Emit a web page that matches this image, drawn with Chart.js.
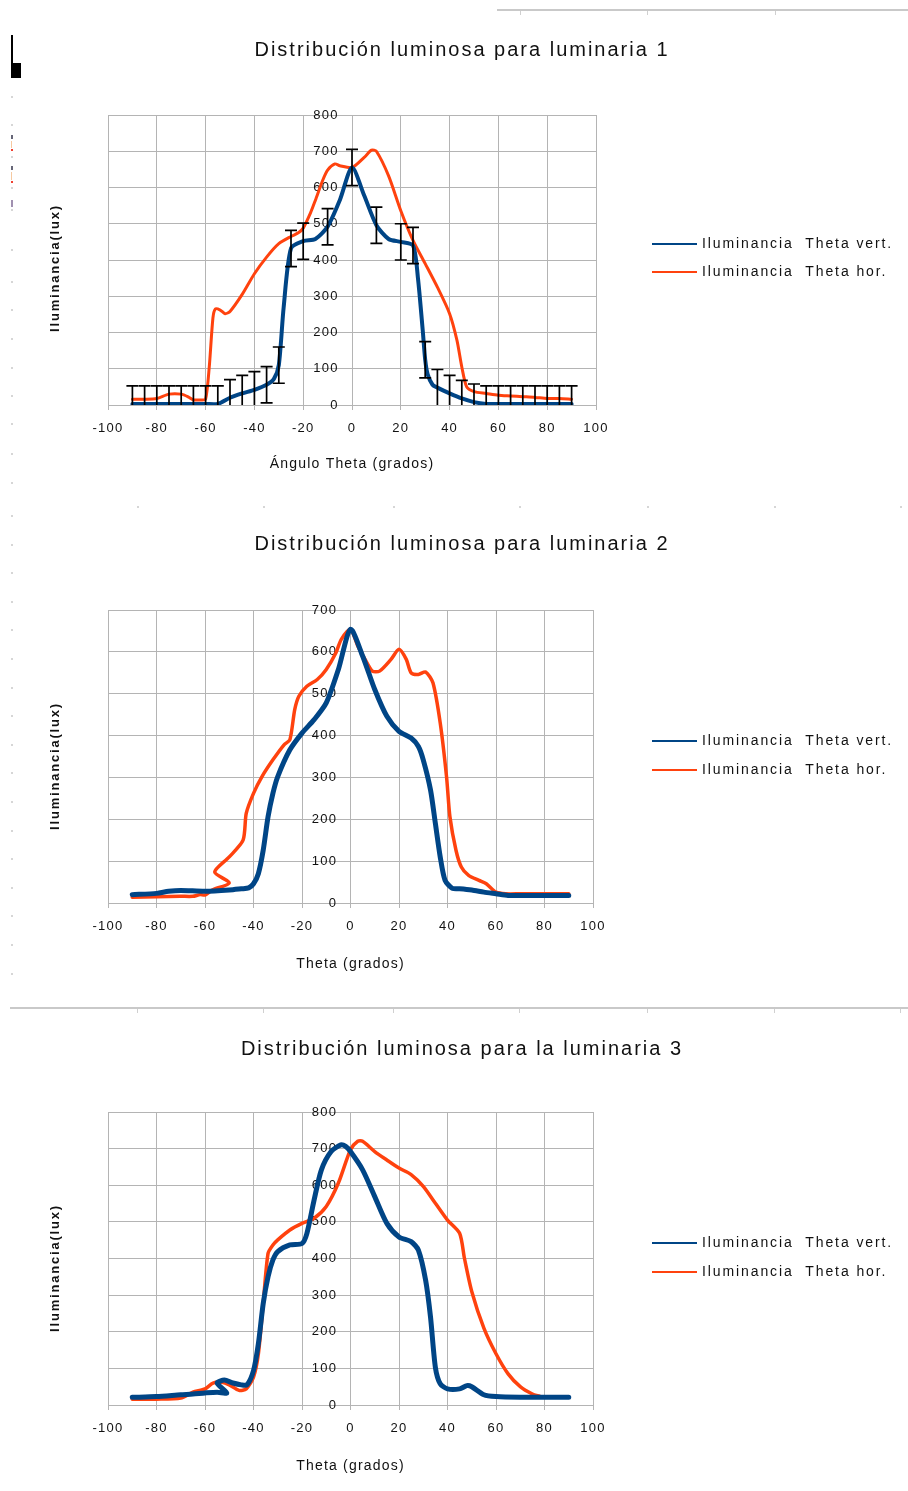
<!DOCTYPE html>
<html>
<head>
<meta charset="utf-8">
<title>Distribución luminosa</title>
<script src="https://cdn.jsdelivr.net/npm/chart.js@4.4.1/dist/chart.umd.min.js"></script>
<style>
  html, body { margin: 0; padding: 0; background: #fff; }
  #page { position: relative; width: 908px; height: 1491px; overflow: hidden; background: #fff; }
  canvas { position: absolute; left: 0; }
  .d { position: absolute; }
</style>
</head>
<body>
<div id="page">
  <!-- sheet decorations -->
  <div class="d" style="left:497px;top:9px;width:411px;height:2px;background:#c9c9c9"></div>
  <div class="d" style="left:520px;top:11px;width:1px;height:4px;background:#d0d0d0"></div>
  <div class="d" style="left:647px;top:11px;width:1px;height:4px;background:#d0d0d0"></div>
  <div class="d" style="left:775px;top:11px;width:1px;height:4px;background:#d0d0d0"></div>
  <div class="d" style="left:11px;top:35px;width:2px;height:43px;background:#000"></div>
  <div class="d" style="left:11px;top:63px;width:10px;height:15px;background:#000"></div>
  <div class="d" style="left:11px;top:135px;width:2px;height:4px;background:#667"></div>
  <div class="d" style="left:11px;top:141px;width:1px;height:7px;background:#f6c9a0"></div>
  <div class="d" style="left:11px;top:149px;width:2px;height:2px;background:#f04030"></div>
  <div class="d" style="left:11px;top:166px;width:2px;height:4px;background:#667"></div>
  <div class="d" style="left:11px;top:172px;width:1px;height:8px;background:#f6c9a0"></div>
  <div class="d" style="left:11px;top:181px;width:2px;height:2px;background:#f04030"></div>
  <div class="d" style="left:11px;top:200px;width:2px;height:7px;background:#a090b0"></div>
  <div class="d" style="left:10px;top:1007px;width:898px;height:2px;background:#c9c9c9"></div>
  <div id="dots"></div>

  <canvas id="c1" width="908" height="500" style="top:0px"></canvas>
  <canvas id="c2" width="908" height="505" style="top:500px"></canvas>
  <canvas id="c3" width="908" height="486" style="top:1005px"></canvas>
</div>

<script>
// ---- data: angle (degrees) and illuminance (lux) per series ----
const seriesLabels = ['Iluminancia  Theta vert.', 'Iluminancia  Theta hor.'];
const seriesColors = ['#004586', '#ff420e'];
const chartTitles = [
  'Distribución luminosa para luminaria 1',
  'Distribución luminosa para luminaria 2',
  'Distribución luminosa para la luminaria 3'
];
const xTitles = ['Ángulo Theta (grados)', 'Theta (grados)', 'Theta (grados)'];
const yTitle = 'Iluminancia(lux)';
const yMaxima = [800, 700, 800];

// Luminaria 1
const l1VertAngles = [-90,-85,-80,-75,-70,-65,-60,-55,-50,-45,-40,-35,-32,-30,-28,-25,-20,-15,-10,-5,0,5,10,15,20,25,27,29,30,31,33,35,40,45,50,55,60,65,70,75,80,85,90];
const l1VertLux    = [3,3,3,3,3,3,3,3,20,32,42,56,72,110,270,432,452,458,492,565,655,578,496,458,450,440,352,205,125,85,56,48,32,18,8,3,3,3,3,3,3,3,3];
const l1HorAngles  = [-90,-85,-80,-75,-70,-67,-65,-62,-60,-58.5,-57,-56,-54,-52,-50,-45,-40,-35,-30,-25,-22,-20,-17,-15,-12,-10,-7,-5,0,5,8,10,15,20,25,30,35,40,43,45,47,50,55,60,65,70,75,80,85,90];
const l1HorLux     = [16,16,18,30,30,22,14,14,16,105,240,265,262,252,258,305,362,408,445,465,475,488,530,565,620,648,665,660,655,683,703,700,632,536,454,390,325,252,179,105,50,37,32,27,25,23,21,18,18,16];
// error bars (± lux) on the vertical series
const l1ErrAngles  = [-90,-85,-80,-75,-70,-65,-60,-55,-50,-45,-40,-35,-30,-25,-20,-10,0,10,20,25,30,35,40,45,50,55,60,65,70,75,80,85,90];
const l1ErrLux     = 50;

// Luminaria 2
const l2VertAngles = [-90,-80,-75,-70,-60,-50,-45,-42,-40,-38,-36,-34,-32,-30,-25,-20,-15,-10,-5,0,5,10,15,20,25,28,30,33,35,37,39,42,45,50,55,60,65,70,80,90];
const l2VertLux    = [20,23,28,30,28,31,34,36,46,70,126,206,262,302,366,406,438,478,558,654,590,510,446,410,394,374,342,270,190,110,54,35,34,31,26,22,18,18,18,18];
const l2HorAngles  = [-90,-80,-70,-65,-62,-60,-57,-50,-56,-50,-44.3,-43,-40,-36.5,-32,-27.4,-25,-23,-21.3,-18,-13.7,-10,-6,-3.8,0,3,6,9,12,16.7,20,23,25,28,31,34,37,39.6,41,43.5,45.7,48.7,53,56,60,64,70,80,90];
const l2HorLux     = [14,15,16,16,20,19,31,48,74,110,150,214,262,302,342,378,390,462,494,518,534,558,598,630,654,614,582,554,554,582,606,582,550,546,552,526,430,302,206,126,86,66,54,46,26,22,22,22,22];

// Luminaria 3
const l3VertAngles = [-90,-80,-70,-65,-60,-55,-51,-55,-52,-48.5,-45,-42.7,-40,-38,-36,-34,-32,-30,-25,-20,-18,-15,-12,-8,-4,-2,0,5,10,15,20,25,28,31,33,35,37,40,45,48,50,55,60,70,80,90];
const l3VertLux    = [21,23,28,30,33,35,33,60,68,60,55,55,94,167,277,350,396,419,437,441,468,560,642,692,710,706,692,642,569,496,459,446,423,340,240,103,58,44,44,53,50,28,23,21,21,21];
const l3HorAngles  = [-90,-80,-70,-65,-60,-56.7,-53,-50,-46,-43,-40,-38,-36,-34,-32,-30,-25,-20,-15,-10,-5,0,3,5,10,15,20,25,30,35,40,45,47,50,55,60,65,70,75,78];
const l3HorLux     = [16,16,19,35,44,60,62,55,40,44,76,139,277,414,437,451,478,496,510,542,606,697,720,720,692,669,647,629,597,551,505,469,400,310,210,140,85,50,30,24];

// ---- helpers ----
const FONT = '"Liberation Sans", Arial, sans-serif';
const toPoints = (xs, ys) => xs.map((x, i) => ({ x, y: ys[i] }));

// title, rotated y title and legend drawn on the canvas
const sheetText = {
  id: 'sheetText',
  beforeDraw(chart) {
    chart.ctx.letterSpacing = '1.2px';
  },
  afterDraw(chart, args, o) {
    const ctx = chart.ctx;
    ctx.save();
    ctx.fillStyle = '#111';
    ctx.textBaseline = 'middle';

    ctx.font = '20px ' + FONT;
    ctx.letterSpacing = '2px';
    ctx.textAlign = 'center';
    ctx.fillText(o.title, o.titleX, o.titleY);

    ctx.save();
    ctx.translate(o.yTitleX, o.yTitleY);
    ctx.rotate(-Math.PI / 2);
    ctx.font = 'bold 13px ' + FONT;
    ctx.letterSpacing = '1.8px';
    ctx.fillText(o.yTitle, 0, 0);
    ctx.restore();

    ctx.font = '14px ' + FONT;
    ctx.letterSpacing = '1.9px';
    ctx.textAlign = 'left';
    chart.data.datasets.forEach((ds, i) => {
      const y = o.legendY + i * o.legendGap;
      ctx.strokeStyle = ds.borderColor;
      ctx.lineWidth = 2.2;
      ctx.beginPath();
      ctx.moveTo(o.legendX, y);
      ctx.lineTo(o.legendX + 45, y);
      ctx.stroke();
      ctx.fillText(ds.label, o.legendX + 50, y);
    });
    ctx.restore();
  }
};

// ± error bars on the first series at the listed angles
const errorBars = {
  id: 'errorBars',
  afterDatasetsDraw(chart, args, o) {
    if (!o.angles) return;
    const ctx = chart.ctx;
    const xs = chart.scales.x, ys = chart.scales.y;
    const data = chart.data.datasets[0].data;
    const area = chart.chartArea;
    ctx.save();
    ctx.beginPath();
    ctx.rect(area.left, area.top - 2, area.right - area.left, area.bottom - area.top + 2);
    ctx.clip();
    ctx.strokeStyle = '#000';
    ctx.lineWidth = 1.7;
    o.angles.forEach(a => {
      const p = data.find(d => d.x === a);
      if (!p) return;
      const px = xs.getPixelForValue(a);
      const top = ys.getPixelForValue(p.y + o.amount);
      const bot = ys.getPixelForValue(p.y - o.amount);
      ctx.beginPath();
      ctx.moveTo(px, top); ctx.lineTo(px, bot);
      ctx.moveTo(px - o.cap, top); ctx.lineTo(px + o.cap, top);
      ctx.moveTo(px - o.cap, bot); ctx.lineTo(px + o.cap, bot);
      ctx.stroke();
    });
    ctx.restore();
  }
};

function makeChart(id, cfg) {
  const gridColor = '#b4b4b4';
  return new Chart(document.getElementById(id), {
    type: 'scatter',
    data: {
      datasets: [
        {
          label: seriesLabels[0],
          data: toPoints(cfg.vA, cfg.vL),
          borderColor: seriesColors[0],
          backgroundColor: seriesColors[0],
          borderWidth: cfg.vWidth,
          showLine: true, pointRadius: 0, tension: 0.25,
          borderJoinStyle: 'round', borderCapStyle: 'round'
        },
        {
          label: seriesLabels[1],
          data: toPoints(cfg.hA, cfg.hL),
          borderColor: seriesColors[1],
          backgroundColor: seriesColors[1],
          borderWidth: cfg.hWidth,
          showLine: true, pointRadius: 0, tension: 0.25,
          borderJoinStyle: 'round', borderCapStyle: 'round'
        }
      ]
    },
    options: {
      responsive: false,
      animation: false,
      devicePixelRatio: 1,
      layout: { padding: cfg.padding },
      plugins: {
        legend: { display: false },
        title: { display: false },
        tooltip: { enabled: false },
        sheetText: cfg.text,
        errorBars: cfg.err || {}
      },
      scales: {
        x: {
          type: 'linear', position: 'bottom',
          min: -100, max: 100,
          ticks: { stepSize: 20, color: '#111', padding: 11, font: { family: FONT, size: 13 } },
          grid: { color: gridColor, lineWidth: 1, tickLength: 5, drawTicks: true },
          border: { color: gridColor },
          title: { display: true, text: cfg.xTitle, color: '#111', padding: 0, font: { family: FONT, size: 14 } },
          afterFit: s => { s.height = cfg.xHeight; }
        },
        y: {
          type: 'linear', position: { x: -5.5 },
          min: 0, max: cfg.yMax,
          ticks: { stepSize: 100, color: '#111', font: { family: FONT, size: 13 } },
          grid: { color: gridColor, lineWidth: 1, drawTicks: false },
          border: { display: false }
        }
      }
    },
    plugins: [sheetText, errorBars]
  });
}

makeChart('c1', {
  vA: l1VertAngles, vL: l1VertLux, hA: l1HorAngles, hL: l1HorLux,
  vWidth: 4, hWidth: 3, yMax: yMaxima[0], xTitle: xTitles[0], xHeight: 68,
  padding: { left: 108, right: 312, top: 115, bottom: 27 },
  err: { angles: l1ErrAngles, amount: l1ErrLux, cap: 6 },
  text: { title: chartTitles[0], titleX: 462, titleY: 50, yTitle, yTitleX: 55, yTitleY: 268,
          legendX: 652, legendY: 244, legendGap: 28 }
});

makeChart('c2', {
  vA: l2VertAngles, vL: l2VertLux, hA: l2HorAngles, hL: l2HorLux,
  vWidth: 5, hWidth: 3.5, yMax: yMaxima[1], xTitle: xTitles[1], xHeight: 70,
  padding: { left: 108, right: 315, top: 110, bottom: 32 },
  text: { title: chartTitles[1], titleX: 462, titleY: 44, yTitle, yTitleX: 55, yTitleY: 266,
          legendX: 652, legendY: 241, legendGap: 29 }
});

makeChart('c3', {
  vA: l3VertAngles, vL: l3VertLux, hA: l3HorAngles, hL: l3HorLux,
  vWidth: 5, hWidth: 3.5, yMax: yMaxima[2], xTitle: xTitles[2], xHeight: 70,
  padding: { left: 108, right: 315, top: 107, bottom: 16 },
  text: { title: chartTitles[2], titleX: 462, titleY: 44, yTitle, yTitleX: 55, yTitleY: 263,
          legendX: 652, legendY: 238, legendGap: 29 }
});

// faint cell-corner dots of the sheet
(function () {
  const host = document.getElementById('dots');
  const add = (x, y) => {
    const d = document.createElement('div');
    d.className = 'd';
    d.style.cssText = `left:${x}px;top:${y}px;width:2px;height:2px;background:#d6d6d6`;
    host.appendChild(d);
  };
  [96, 124, 156, 187, 209, 249, 281, 309, 338, 367, 395, 423, 453, 482].forEach(y => add(11, y));
  for (let y = 515; y < 990; y += 28.6) add(11, Math.round(y));
  [137, 263, 393, 519, 647, 774, 900].forEach(x => add(x, 506));
  [137, 263, 393, 519, 647, 774, 900].forEach(x => {
    const t = document.createElement('div');
    t.className = 'd';
    t.style.cssText = `left:${x}px;top:1009px;width:1px;height:4px;background:#d0d0d0`;
    host.appendChild(t);
  });
})();
</script>
</body>
</html>
